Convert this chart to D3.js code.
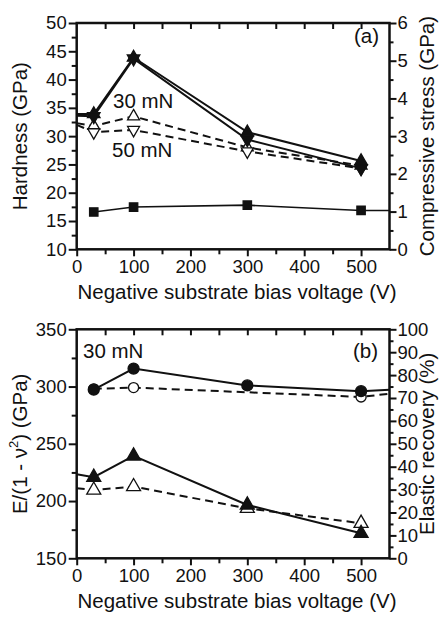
<!DOCTYPE html>
<html>
<head>
<meta charset="utf-8">
<script src="https://cdn.jsdelivr.net/npm/d3@7"></script>
<style>
  body { margin: 0; background: #fff; }
  text { font-family: "Liberation Sans", Arial, sans-serif; fill: #111; }
</style>
</head>
<body>
<div id="chart"></div>
<script>
// ---- data ----
var biasV = [30, 100, 300, 500];

// panel (a): hardness (GPa, left axis)
var hard30Filled = [33.9, 43.9, 30.7, 25.6];   // filled up triangles, solid
var hard50Filled = [33.5, 43.7, 29.4, 24.3];   // filled down triangles, solid
var hard30Open = [31.8, 33.5, 28.0, 24.8];     // open up triangles, dashed
var hard50Open = [30.7, 31.1, 27.3, 24.3];     // open down triangles, dashed
var hardAtZero = [33.9, 33.6, 32.3, 32.0];     // line starts at the left axis
// panel (a): compressive stress (GPa, right axis)
var stress = [0.99, 1.12, 1.17, 1.03];
var stressAtEnd = 1.03;

// panel (b): E/(1-v^2) (GPa, left axis)
var modFilled = [297.3, 315.7, 301.0, 296.0];
var modOpen = [298.0, 299.1, null, 290.9];
var modAtEnd = [297.3, 293.8];
// panel (b): elastic recovery (%, right axis)
var recFilled = [35.4, 44.7, 23.3, 10.9];
var recOpen = [29.8, 31.3, 21.8, 15.3];
var recAtZero = [36.7, 30.6];

var xTicks = [0, 100, 200, 300, 400, 500];
var hardTicks = [10, 15, 20, 25, 30, 35, 40, 45, 50];
var stressTicks = [0, 1, 2, 3, 4, 5, 6];
var modTicks = [150, 200, 250, 300, 350];
var recTicks = [0, 10, 20, 30, 40, 50, 60, 70, 80, 90, 100];

var W = 443, H = 618;
var fsTick = 18.5, fsLabel = 20.5;

var svg = d3.select("#chart").append("svg")
  .attr("width", W)
  .attr("height", H);

var x = d3.scaleLinear().domain([0, 550]).range([76.7, 389.5]);

function drawPanel(p) {
  var g = svg.append("g");
  var yL = d3.scaleLinear().domain(p.leftDomain).range([p.bottom, p.top]);
  var yR = d3.scaleLinear().domain(p.rightDomain).range([p.bottom, p.top]);

  // minor ticks first
  g.append("g").attr("transform", "translate(0," + p.bottom + ")")
    .call(d3.axisBottom(x).tickValues(d3.range(50, 550, 100)).tickSize(5).tickFormat(""));
  g.append("g").attr("transform", "translate(0," + p.top + ")")
    .call(d3.axisBottom(x).tickValues(d3.range(50, 550, 50)).tickSize(6).tickFormat(""));
  g.append("g").attr("transform", "translate(" + x.range()[0] + ",0)")
    .call(d3.axisLeft(yL).tickValues(p.leftMinor).tickSize(5).tickFormat(""));
  g.append("g").attr("transform", "translate(" + x.range()[1] + ",0)")
    .call(d3.axisRight(yR).tickValues(p.rightMinor).tickSize(4).tickFormat(""));

  // major ticks with labels
  g.append("g").attr("transform", "translate(0," + p.bottom + ")")
    .call(d3.axisBottom(x).tickValues(xTicks).tickSize(7).tickPadding(4).tickFormat(d3.format("d")));
  g.append("g").attr("transform", "translate(" + x.range()[0] + ",0)")
    .call(d3.axisLeft(yL).tickValues(p.leftTicks).tickSize(8).tickPadding(2).tickFormat(d3.format("d")));
  g.append("g").attr("transform", "translate(" + x.range()[1] + ",0)")
    .call(d3.axisRight(yR).tickValues(p.rightTicks).tickSize(7).tickPadding(1).tickFormat(d3.format("d")));

  g.selectAll(".domain").remove();
  g.selectAll(".tick line").attr("stroke", "#111").attr("stroke-width", 2);
  g.selectAll(".tick text").style("font-size", fsTick + "px").attr("fill", "#111");

  // frame
  g.append("rect")
    .attr("x", x.range()[0])
    .attr("y", p.top)
    .attr("width", x.range()[1] - x.range()[0])
    .attr("height", p.bottom - p.top)
    .attr("fill", "none")
    .attr("stroke", "#111")
    .attr("stroke-width", 2.5);

  // series: open ones first so filled markers sit on top
  p.series.forEach(function(s) {
    var yS = s.axis === "right" ? yR : yL;
    var pts = [];
    if (s.start != null) pts.push([0, s.start]);
    biasV.forEach(function(v, i) {
      if (s.values[i] != null) pts.push([v, s.values[i]]);
    });
    if (s.end != null) pts.push([550, s.end]);

    g.append("path")
      .datum(pts)
      .attr("fill", "none")
      .attr("stroke", "#111")
      .attr("stroke-width", s.width || 2)
      .attr("stroke-dasharray", s.dashed ? "8,5" : null)
      .attr("d", d3.line().x(function(d) { return x(d[0]); }).y(function(d) { return yS(d[1]); }));

    var marks = biasV.map(function(v, i) { return [v, s.values[i]]; })
      .filter(function(d) { return d[1] != null; });
    g.selectAll(null)
      .data(marks)
      .enter()
      .append("path")
      .attr("d", d3.symbol().type(s.symbol).size(s.size))
      .attr("transform", function(d) {
        return "translate(" + x(d[0]) + "," + yS(d[1]) + ")" + (s.flip ? " rotate(180)" : "");
      })
      .attr("fill", s.open ? "#fff" : "#111")
      .attr("stroke", "#111")
      .attr("stroke-width", 1.3);
  });

  // axis titles
  svg.append("text")
    .attr("x", 237)
    .attr("y", p.bottom + 50)
    .attr("text-anchor", "middle")
    .style("font-size", fsLabel + "px")
    .text("Negative substrate bias voltage (V)");

  var lt = svg.append("text")
    .attr("transform", "translate(22," + (p.top + p.bottom) / 2 + ") rotate(-90)")
    .attr("text-anchor", "middle")
    .attr("dominant-baseline", "middle")
    .style("font-size", fsLabel + "px");
  p.leftTitle(lt);

  svg.append("text")
    .attr("transform", "translate(429," + (p.top + p.bottom) / 2 + ") rotate(-90)")
    .attr("text-anchor", "middle")
    .attr("dominant-baseline", "middle")
    .style("font-size", fsLabel + "px")
    .text(p.rightTitle);

  p.notes.forEach(function(n) {
    svg.append("text")
      .attr("x", n.x)
      .attr("y", n.y)
      .attr("text-anchor", n.anchor || "start")
      .style("font-size", fsLabel + "px")
      .text(n.t);
  });
}

// panel (a)
drawPanel({
  top: 23, bottom: 249.3,
  leftDomain: [10, 50], rightDomain: [0, 6],
  leftTicks: hardTicks, leftMinor: d3.range(12.5, 50, 5),
  rightTicks: stressTicks, rightMinor: d3.range(0.5, 6, 1),
  series: [
    { values: hard30Open, start: hardAtZero[2], dashed: true, open: true, symbol: d3.symbolTriangle, size: 62 },
    { values: hard50Open, start: hardAtZero[3], dashed: true, open: true, symbol: d3.symbolTriangle, size: 62, flip: true },
    { values: stress, end: stressAtEnd, axis: "right", width: 1.6, symbol: d3.symbolSquare, size: 70 },
    { values: hard30Filled, start: hardAtZero[0], symbol: d3.symbolTriangle, size: 68 },
    { values: hard50Filled, start: hardAtZero[1], symbol: d3.symbolTriangle, size: 68, flip: true }
  ],
  leftTitle: function(t) { t.text("Hardness (GPa)"); },
  rightTitle: "Compressive stress (GPa)",
  notes: [
    { t: "30 mN", x: 113, y: 108 },
    { t: "50 mN", x: 112, y: 157 },
    { t: "(a)", x: 379, y: 43, anchor: "end" }
  ]
});

// panel (b)
drawPanel({
  top: 329.3, bottom: 558.3,
  leftDomain: [150, 350], rightDomain: [0, 100],
  leftTicks: modTicks, leftMinor: d3.range(175, 350, 50),
  rightTicks: recTicks, rightMinor: d3.range(5, 100, 10),
  series: [
    { values: modOpen, end: modAtEnd[1], dashed: true, open: true, symbol: d3.symbolCircle, size: 80 },
    { values: recOpen, start: recAtZero[1], axis: "right", dashed: true, open: true, symbol: d3.symbolTriangle, size: 85 },
    { values: modFilled, end: modAtEnd[0], symbol: d3.symbolCircle, size: 95 },
    { values: recFilled, start: recAtZero[0], axis: "right", symbol: d3.symbolTriangle, size: 85 }
  ],
  leftTitle: function(t) {
    t.append("tspan").text("E/(1 - \u03bd");
    t.append("tspan").attr("baseline-shift", "super").style("font-size", "13px").text("2");
    t.append("tspan").text(") (GPa)");
  },
  rightTitle: "Elastic recovery (%)",
  notes: [
    { t: "30 mN", x: 83, y: 358 },
    { t: "(b)", x: 378, y: 358, anchor: "end" }
  ]
});
</script>
</body>
</html>
